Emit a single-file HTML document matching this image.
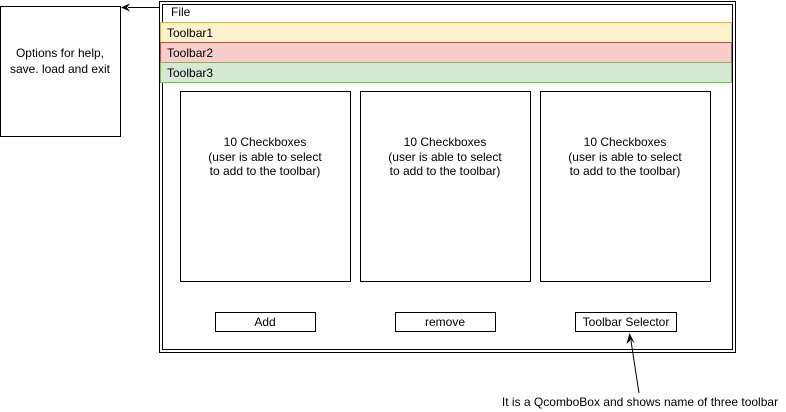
<!DOCTYPE html>
<html><head><style>body{margin:0;background:#fff}svg{display:block}text{font-family:"Liberation Sans",Arial,sans-serif;font-size:12px;fill:#000}</style></head><body>
<svg width="786" height="412" viewBox="0 0 786 412" xmlns="http://www.w3.org/2000/svg">
<rect x="159.5" y="1.5" width="576" height="351" fill="#fff" stroke="#000"/>
<rect x="162.5" y="4.5" width="570" height="345" fill="none" stroke="#000"/>
<text x="171" y="16">File</text>
<rect x="160.5" y="22.5" width="571" height="20" fill="#fff2cc" stroke="#d6b656"/>
<text x="167" y="37">Toolbar1</text>
<rect x="160.5" y="42.5" width="571" height="20" fill="#f8cecc" stroke="#b85450"/>
<text x="167" y="57">Toolbar2</text>
<rect x="160.5" y="62.5" width="571" height="20" fill="#d5e8d4" stroke="#82b366"/>
<text x="167" y="77">Toolbar3</text>
<rect x="0.5" y="6.5" width="120" height="130" fill="#fff" stroke="#000"/>
<text x="60" y="57" text-anchor="middle">Options for help,</text>
<text x="60" y="73" text-anchor="middle">save. load and exit</text>
<line x1="160" y1="7.5" x2="128" y2="7.5" stroke="#000"/>
<polygon points="121,7.5 130,3.5 127,7.5 130,11.5" fill="#000"/>
<g text-anchor="middle">
<rect x="180.5" y="91.5" width="170" height="190" fill="#fff" stroke="#000"/>
<text x="265" y="146">10 Checkboxes</text><text x="265" y="161">(user is able to select</text><text x="265" y="175">to add to the toolbar)</text>
<rect x="360.5" y="91.5" width="170" height="190" fill="#fff" stroke="#000"/>
<text x="445" y="146">10 Checkboxes</text><text x="445" y="161">(user is able to select</text><text x="445" y="175">to add to the toolbar)</text>
<rect x="540.5" y="91.5" width="170" height="190" fill="#fff" stroke="#000"/>
<text x="625" y="146">10 Checkboxes</text><text x="625" y="161">(user is able to select</text><text x="625" y="175">to add to the toolbar)</text>
<rect x="215.5" y="312.5" width="100" height="19" fill="#fff" stroke="#000"/>
<text x="265" y="326">Add</text>
<rect x="395.5" y="312.5" width="100" height="19" fill="#fff" stroke="#000"/>
<text x="445" y="326">remove</text>
<rect x="575.5" y="312.5" width="101" height="19" fill="#fff" stroke="#000"/>
<text x="626" y="326">Toolbar Selector</text>
<text x="640" y="406">It is a QcomboBox and shows name of three toolbar</text>
</g>
<line x1="639" y1="393" x2="631" y2="341" stroke="#000"/>
<polygon points="629.5,333 634.5,343 630.8,340 626.5,344" fill="#000"/>
</svg>
</body></html>
